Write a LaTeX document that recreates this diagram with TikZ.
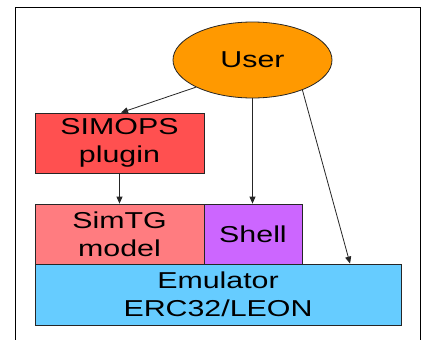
\documentclass[tikz,border=0pt]{standalone}
\usepackage{fontspec}
\setmainfont{Liberation Sans}[FakeStretch=1.32]
\usetikzlibrary{calc,arrows.meta,shapes.geometric}
\definecolor{userorange}{HTML}{FF9900}
\definecolor{simopsred}{HTML}{FF5050}
\definecolor{simtgpink}{HTML}{FF7C80}
\definecolor{shellviolet}{HTML}{CC66FF}
\definecolor{emublue}{HTML}{66CCFF}
\tikzset{
  blk/.style={draw=black!85, line width=0.8pt, inner sep=0pt, align=center,
    font=\fontsize{23}{28.4}\selectfont},
  conn/.style={draw=black!85, line width=0.8pt, -{Triangle[length=7pt,width=6pt]}},
}
\begin{document}
\begin{tikzpicture}[x=1pt,y=-1pt]
\useasboundingbox (0,0) rectangle (423,340);
\fill[white] (0,0) rectangle (423,340);
\draw[line width=1pt] (15,340) -- (15,7) -- (420,7) -- (420,340);
\node[blk, ellipse, fill=userorange, minimum width=159pt, minimum height=76pt] (user) at (252.5,60) {User};
\node[blk, fill=simopsred, minimum width=169pt, minimum height=60pt] (simops) at (119.5,143) {SIMOPS\\plugin};
\node[blk, fill=simtgpink, minimum width=169pt, minimum height=60pt] (simtg) at (119.5,234) {SimTG\\model};
\node[blk, fill=shellviolet, minimum width=98pt, minimum height=60pt] (shell) at (253,234) {Shell};
\node[blk, fill=emublue, minimum width=366pt, minimum height=61pt] (emu) at (218,294.5) {Emulator\\ERC32/LEON};
\coordinate (emutgt) at ($(emu.north west)!0.86!(emu.north east)$);
\draw[conn] (user.south west) -- ($(simops.north)+(1.5,0)$);
\draw[conn] (simops.south) -- (simtg.north);
\draw[conn] (user.south) -- (user.south |- shell.north);
\draw[conn] (user.-31) -- (emutgt);
\end{tikzpicture}
\end{document}
